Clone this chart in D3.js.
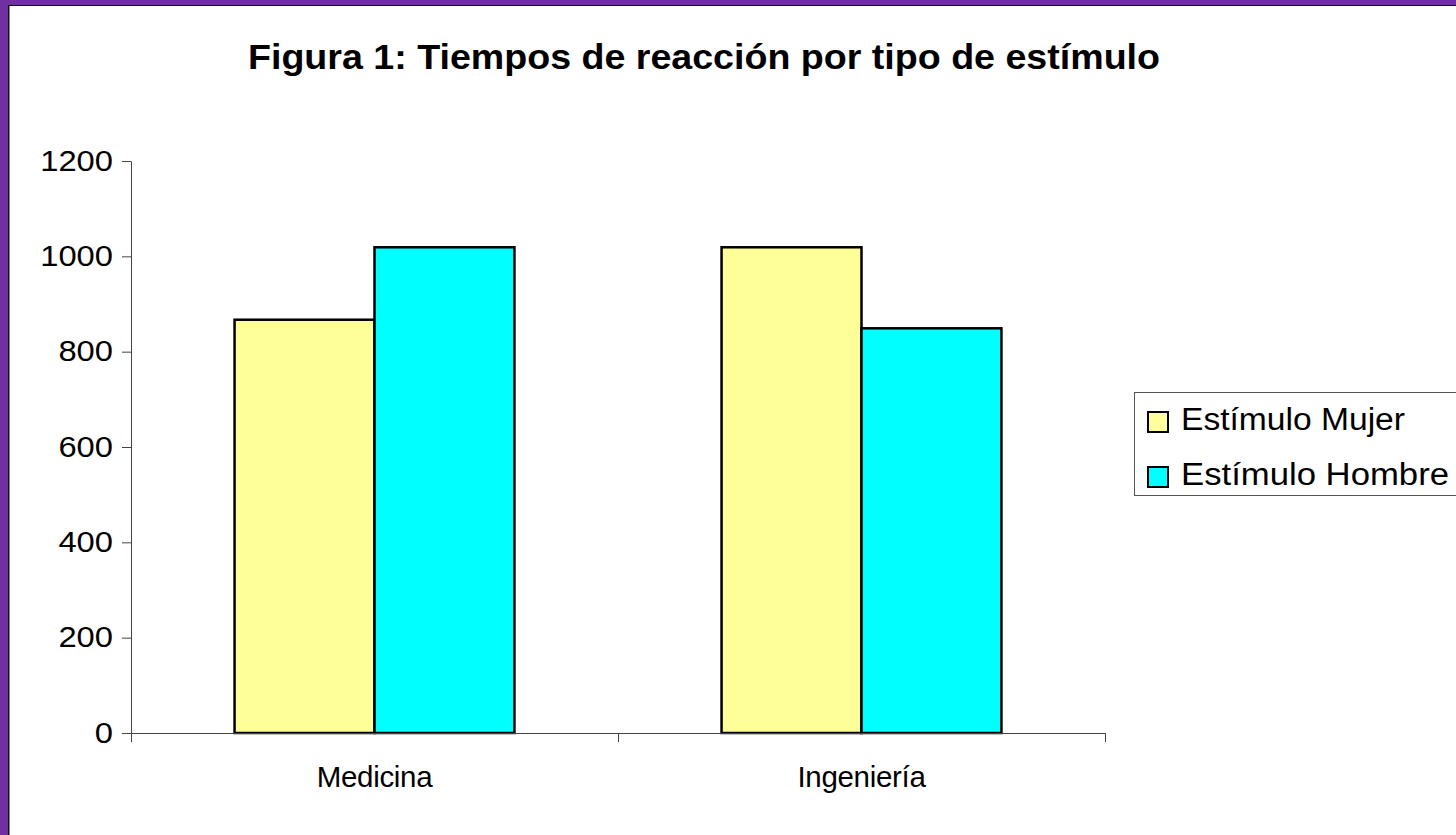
<!DOCTYPE html>
<html>
<head>
<meta charset="utf-8">
<script src="https://cdn.jsdelivr.net/npm/d3@7"></script>
<style>
  body { margin: 0; background: #fff; }
  text { font-family: "Liberation Sans", Arial, sans-serif; fill: #000; }
</style>
</head>
<body>
<div id="chart"></div>
<script>
// data
var categories = ["Medicina", "Ingeniería"];
var series = ["Estímulo Mujer", "Estímulo Hombre"];
var mujer = [867, 1019];
var hombre = [1019, 849];
var yTicks = [0, 200, 400, 600, 800, 1000, 1200];
var colors = ["#FFFF99", "#00FFFF"];

var svgWidth = 1456, svgHeight = 835;

var svg = d3.select("#chart").append("svg")
  .attr("width", svgWidth)
  .attr("height", svgHeight);

// purple frame, only left and top show
svg.append("rect").attr("width", svgWidth).attr("height", svgHeight).attr("fill", "#7030A0");
svg.append("rect").attr("x", 8).attr("y", 5).attr("width", svgWidth).attr("height", svgHeight).attr("fill", "#fff");
svg.append("line").attr("x1", 8.5).attr("x2", 8.5).attr("y1", 5).attr("y2", svgHeight).attr("stroke", "#111").attr("stroke-width", 1);
svg.append("line").attr("x1", 8).attr("x2", svgWidth).attr("y1", 5.5).attr("y2", 5.5).attr("stroke", "#111").attr("stroke-width", 1);
svg.append("line").attr("x1", 9.5).attr("x2", 9.5).attr("y1", 6).attr("y2", svgHeight).attr("stroke", "#888").attr("stroke-width", 1);

// title
svg.append("text")
  .attr("x", 704)
  .attr("y", 69)
  .attr("text-anchor", "middle")
  .attr("font-size", 35)
  .attr("font-weight", "bold")
  .attr("textLength", 912)
  .attr("lengthAdjust", "spacingAndGlyphs")
  .text("Figura 1: Tiempos de reacción por tipo de estímulo");

var x0 = d3.scaleBand().domain(categories).range([131, 1105]);
var x1 = d3.scaleBand().domain(series).range([0, x0.bandwidth()]).paddingOuter(0.74);
var y = d3.scaleLinear().domain([0, 1200]).range([733, 161]);

// y axis
var yAxis = svg.append("g")
  .attr("transform", "translate(131,0)")
  .call(d3.axisLeft(y).tickValues(yTicks).tickFormat(d3.format("d")).tickSize(9).tickPadding(9).tickSizeOuter(0));
yAxis.select(".domain").attr("stroke", "#444");
yAxis.selectAll(".tick line").attr("stroke", "#444");
yAxis.selectAll(".tick text")
  .attr("font-size", 29)
  .attr("font-family", "Liberation Sans, Arial, sans-serif")
  .attr("fill", "#000")
  .attr("textLength", function(d) { return String(d).length * 18.2; })
  .attr("lengthAdjust", "spacingAndGlyphs");

// bars
var rows = categories.map(function(c, i) { return { cat: c, vals: [mujer[i], hombre[i]] }; });
var groups = svg.selectAll(".grp").data(rows).enter().append("g")
  .attr("class", "grp")
  .attr("transform", function(d) { return "translate(" + x0(d.cat) + ",0)"; });
groups.selectAll("rect")
  .data(function(d) { return d.vals.map(function(v, j) { return { s: series[j], v: v, j: j }; }); })
  .enter().append("rect")
  .attr("x", function(d) { return x1(d.s); })
  .attr("y", function(d) { return y(d.v); })
  .attr("width", x1.bandwidth())
  .attr("height", function(d) { return y(0) - y(d.v); })
  .attr("fill", function(d) { return colors[d.j]; })
  .attr("stroke", "#000")
  .attr("stroke-width", 2.5);

// x axis: line with ticks at band edges
var xAxis = svg.append("g").attr("transform", "translate(0,733)")
  .call(d3.axisBottom(x0).tickSize(0).tickPadding(33).tickSizeOuter(0));
xAxis.select(".domain").attr("stroke", "#444");
xAxis.selectAll(".tick text")
  .attr("font-size", 29.5)
  .attr("font-family", "Liberation Sans, Arial, sans-serif")
  .attr("fill", "#000")
  .attr("letter-spacing", -0.3);
var edges = categories.map(function(c) { return x0(c); }).concat([x0.range()[1]]);
svg.selectAll(".xedge").data(edges).enter().append("line")
  .attr("class", "xedge")
  .attr("x1", function(d) { return d + 0.5; })
  .attr("x2", function(d) { return d + 0.5; })
  .attr("y1", 733)
  .attr("y2", 742)
  .attr("stroke", "#444");

// legend
var legend = svg.append("g");
legend.append("rect")
  .attr("x", 1134.5).attr("y", 392.5)
  .attr("width", 330).attr("height", 103)
  .attr("fill", "#fff").attr("stroke", "#555");
var items = legend.selectAll(".item").data(series).enter().append("g")
  .attr("class", "item")
  .attr("transform", function(d, i) { return "translate(0," + (i * 55) + ")"; });
items.append("rect")
  .attr("x", 1148).attr("y", 412)
  .attr("width", 20).attr("height", 20)
  .attr("fill", function(d, i) { return colors[i]; })
  .attr("stroke", "#000").attr("stroke-width", 2);
items.append("text")
  .attr("x", 1181).attr("y", 430)
  .attr("font-size", 31)
  .attr("textLength", function(d, i) { return i === 0 ? 224 : 268; })
  .attr("lengthAdjust", "spacingAndGlyphs")
  .text(function(d) { return d; });
</script>
</body>
</html>
